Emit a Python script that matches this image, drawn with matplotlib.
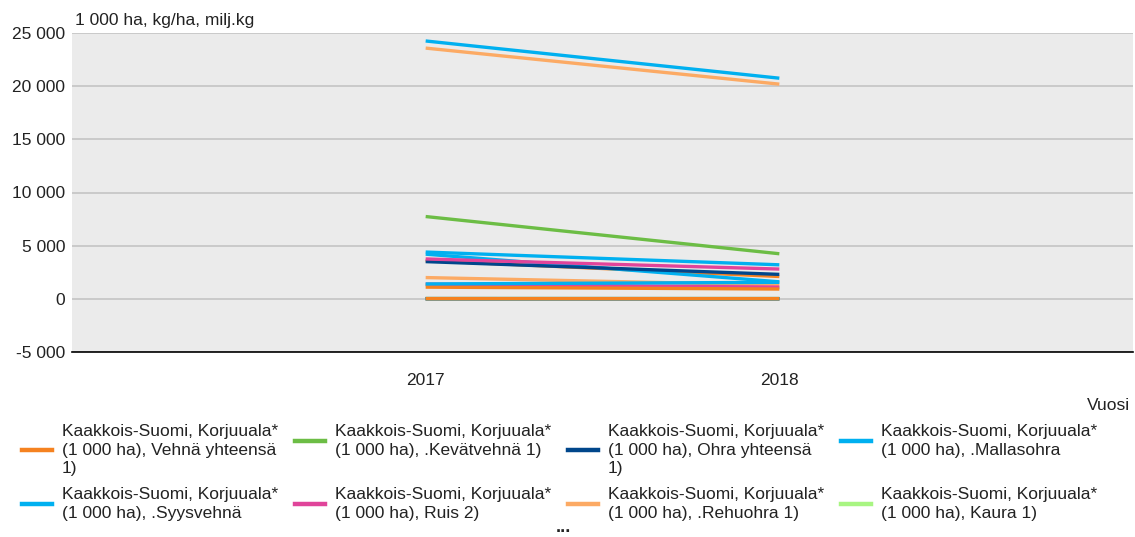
import matplotlib
matplotlib.use("Agg")
import matplotlib.pyplot as plt
from matplotlib.lines import Line2D

plt.rcParams['font.family'] = ['Liberation Sans', 'DejaVu Sans']

# Data
years = [2017, 2018]

ORANGE = '#f58220'
CYAN = '#00b0f0'
GREEN = '#6cbd45'
PINK = '#e0449a'
NAVY = '#00468b'
LORANGE = '#fcaa64'
LGREEN = '#a8f582'

prefix = "Kaakkois-Suomi, Korjuuala*\n(1 000 ha), "

# series shown in the legend (area, 1 000 ha)
legend_names = [
    prefix + "Vehnä yhteensä\n1)",
    prefix + ".Syysvehnä",
    prefix + ".Kevätvehnä 1)",
    prefix + "Ruis 2)",
    prefix + "Ohra yhteensä\n1)",
    prefix + ".Rehuohra 1)",
    prefix + ".Mallasohra",
    prefix + "Kaura 1)",
]
legend_colors = [ORANGE, CYAN, GREEN, PINK, NAVY, LORANGE, CYAN, LGREEN]
legend_values = [
    [20, 18],
    [12, 11],
    [17, 15],
    [10, 9],
    [25, 23],
    [15, 13],
    [14, 13],
    [30, 28],
]

# remaining series (not listed in the visible part of the legend)
other_colors = [LGREEN, ORANGE, CYAN, GREEN, NAVY, PINK, LORANGE, CYAN,
                PINK, ORANGE, CYAN, CYAN, LORANGE]
other_values = [
    [1300, 1050],
    [3600, 2100],
    [4200, 1600],
    [7740, 4240],
    [3500, 2300],
    [3750, 2800],
    [2000, 1300],
    [4400, 3200],
    [1380, 1100],
    [1100, 920],
    [1400, 1550],
    [24250, 20750],
    [23580, 20190],
]

yticks = [-5000, 0, 5000, 10000, 15000, 20000, 25000]
ytick_labels = ["-5 000", "0", "5 000", "10 000", "15 000", "20 000", "25 000"]

W, H = 1135, 537
fig = plt.figure(figsize=(W / 100, H / 100), dpi=100)
ax = fig.add_axes([72 / W, (H - 352) / H, (1133 - 72) / W, (352 - 33) / H])
ax.set_facecolor('#ebebeb')

for vals, c in zip(other_values, other_colors):
    ax.plot(years, vals, color=c, lw=2.4, solid_capstyle='butt', zorder=3)
# area series drawn last-to-first so the first one ends on top
n = len(legend_values)
for i in range(n - 1, -1, -1):
    ax.plot(years, legend_values[i], color=legend_colors[i], lw=2.4,
            solid_capstyle='butt', zorder=3)

ax.set_xlim(2016, 2019)
ax.set_ylim(-5000, 25000)
ax.set_xticks(years)
ax.set_xticklabels([str(y) for y in years])
ax.set_yticks(yticks)
ax.set_yticklabels(ytick_labels)
ax.tick_params(axis='both', length=0, labelsize=12.5, colors='#222222')
ax.tick_params(axis='y', pad=5)
ax.tick_params(axis='x', pad=15)
ax.grid(axis='y', color='#c4c4c4', lw=1.2, zorder=1)
for s in ['left', 'right', 'top']:
    ax.spines[s].set_visible(False)
ax.spines['bottom'].set_color('#000000')
ax.spines['bottom'].set_linewidth(1.2)

fig.text(75 / W, 1 - 20 / H, "1 000 ha, kg/ha, milj.kg", fontsize=12.5,
         va='center', ha='left', color='#222222')
fig.text(1130 / W, 1 - 405 / H, "Vuosi", fontsize=12.5,
         va='center', ha='right', color='#222222')

# legend, two rows filled column by column
col_x = [22, 295, 568, 841]
row_y = [424, 487]
line_h = 19
for i, (name, c) in enumerate(zip(legend_names, legend_colors)):
    col, row = i // 2, i % 2
    x0 = col_x[col]
    y0 = row_y[row]
    nlines = name.count("\n") + 1
    fig.text((x0 + 40) / W, 1 - y0 / H, name, fontsize=12.5, va='top',
             ha='left', linespacing=1.3, color='#222222')
    ymid = y0 + 7 + (nlines - 1) * line_h / 2
    fig.add_artist(Line2D([x0 / W, (x0 + 30) / W], [1 - ymid / H, 1 - ymid / H],
                          color=c, lw=3.2, transform=fig.transFigure))

fig.text(563 / W, 1 - 527 / H, "...", fontsize=13, fontweight='bold',
         va='center', ha='center', color='#222222')

fig.savefig("out.png", dpi=100)
